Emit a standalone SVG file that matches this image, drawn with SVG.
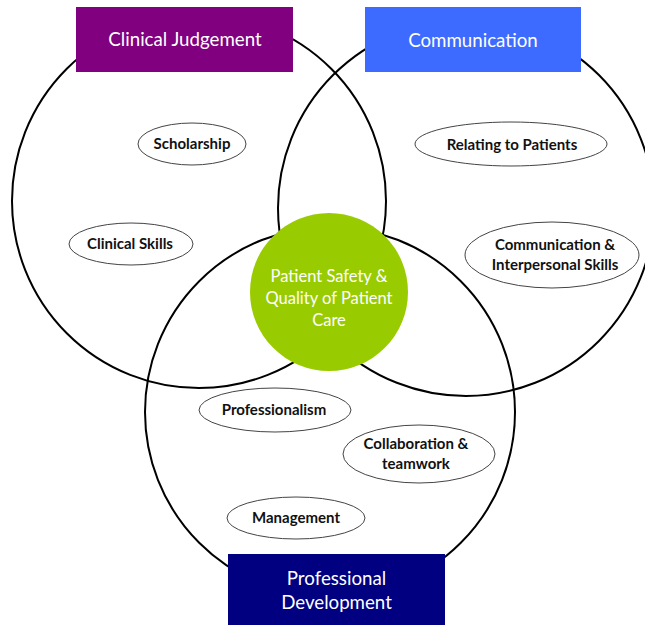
<svg xmlns="http://www.w3.org/2000/svg" width="645" height="625" viewBox="0 0 645 625">
<style>
.big{fill:none;stroke:#000;stroke-width:2}
.box text{fill:#fff;font-family:Lato,"Open Sans","Liberation Sans",sans-serif;font-size:18.7px;text-anchor:middle}
.oval ellipse{fill:#fff;stroke:#444;stroke-width:1}
.oval text{fill:#111;font-family:Lato,"Open Sans","Liberation Sans",sans-serif;font-size:15px;font-weight:bold;text-anchor:middle}
.core text{fill:#fff;font-family:Lato,"Open Sans","Liberation Sans",sans-serif;font-size:16.5px;text-anchor:middle}
</style>
<rect width="645" height="625" fill="#fff"/>
<g id="circles">
<circle class="big" cx="199" cy="201" r="187"/>
<circle class="big" cx="466" cy="208" r="188"/>
<circle class="big" cx="330" cy="412" r="185"/>
</g>
<g id="core" class="core">
<circle cx="329" cy="292" r="79" fill="#99CC00"/>
<text x="329" y="282">Patient Safety &amp;</text>
<text x="329" y="304">Quality of Patient</text>
<text x="329" y="326">Care</text>
</g>
<g id="clinical-judgement" class="box">
<rect x="76" y="7" width="217" height="65" fill="#800080"/>
<text x="185" y="46">Clinical Judgement</text>
</g>
<g id="communication" class="box">
<rect x="365" y="7" width="216" height="65" fill="#3D6BFF"/>
<text x="473" y="47">Communication</text>
</g>
<g id="professional-development" class="box">
<rect x="228" y="554" width="217" height="71" fill="#000080"/>
<text x="336.5" y="585">Professional</text>
<text x="336.5" y="609">Development</text>
</g>
<g id="scholarship" class="oval">
<ellipse cx="192" cy="144" rx="54" ry="21"/>
<text x="192" y="149">Scholarship</text>
</g>
<g id="relating" class="oval">
<ellipse cx="511" cy="144" rx="96" ry="22"/>
<text x="512" y="150">Relating to Patients</text>
</g>
<g id="clinical-skills" class="oval">
<ellipse cx="131" cy="244" rx="62" ry="21"/>
<text x="130" y="249">Clinical Skills</text>
</g>
<g id="comm-interpersonal" class="oval">
<ellipse cx="552" cy="255" rx="87" ry="33"/>
<text x="555" y="250">Communication &amp;</text>
<text x="555" y="270">Interpersonal Skills</text>
</g>
<g id="professionalism" class="oval">
<ellipse cx="275" cy="410" rx="76" ry="22"/>
<text x="274" y="415">Professionalism</text>
</g>
<g id="collaboration" class="oval">
<ellipse cx="419" cy="454" rx="76" ry="29"/>
<text x="416" y="449">Collaboration &amp;</text>
<text x="416" y="469">teamwork</text>
</g>
<g id="management" class="oval">
<ellipse cx="296" cy="518" rx="69" ry="21"/>
<text x="296" y="523">Management</text>
</g>
<g id="connectors"></g>
</svg>
